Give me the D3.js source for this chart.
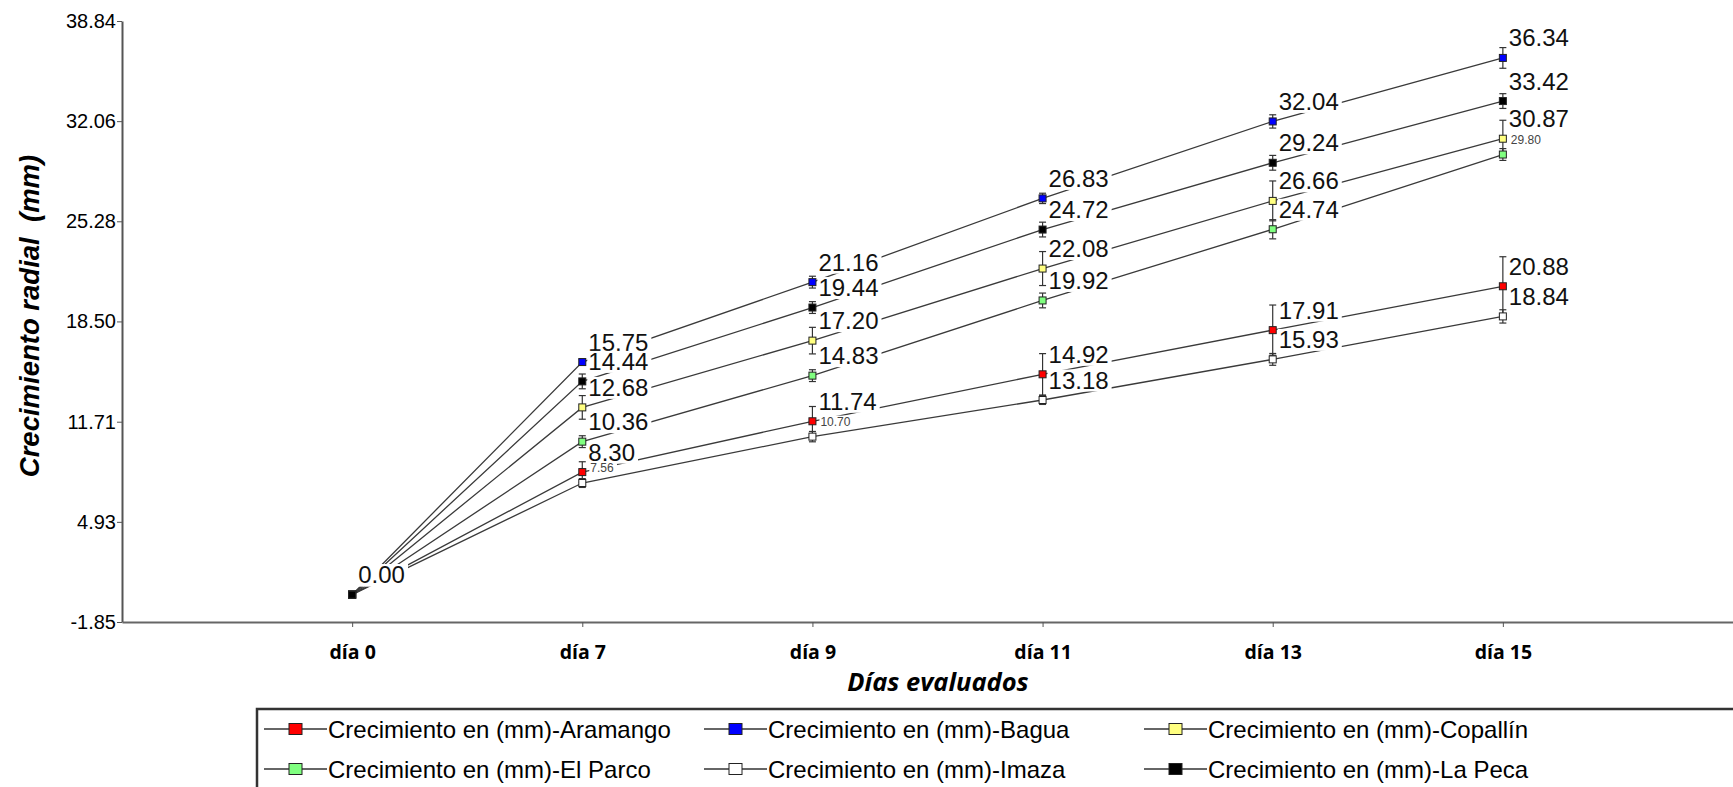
<html>
<head>
<meta charset="utf-8">
<style>
  body { margin: 0; background: #fff; }
  svg { display: block; }
  .arial { font-family: Arial, "Liberation Sans", sans-serif; }
  .osans { font-family: "Open Sans", "Noto Sans", sans-serif; }
</style>
</head>
<body>
<svg id="chart" width="1733" height="787"></svg>
<script src="https://cdnjs.cloudflare.com/ajax/libs/d3/7.8.5/d3.min.js"></script>
<script>
// categories
const days = ['día 0', 'día 7', 'día 9', 'día 11', 'día 13', 'día 15'];

// mean radial growth (mm) per site
const aramango = [0, 8.30, 11.74, 14.92, 17.91, 20.88];
const bagua    = [0, 15.75, 21.16, 26.83, 32.04, 36.34];
const copallin = [0, 12.68, 17.20, 22.08, 26.66, 30.87];
const elParco  = [0, 10.36, 14.83, 19.92, 24.74, 29.80];
const imaza    = [0, 7.56, 10.70, 13.18, 15.93, 18.84];
const laPeca   = [0, 14.44, 19.44, 24.72, 29.24, 33.42];

// error bar half lengths
const aramangoErr = [0, 0.7, 1.0, 1.4, 1.7, 2.0];
const baguaErr    = [0, 0.2, 0.4, 0.35, 0.45, 0.7];
const copallinErr = [0, 0.8, 0.9, 1.15, 1.35, 1.25];
const elParcoErr  = [0, 0.4, 0.4, 0.5, 0.65, 0.4];
const imazaErr    = [0, 0.3, 0.35, 0.3, 0.4, 0.45];
const laPecaErr   = [0, 0.5, 0.4, 0.5, 0.5, 0.5];

const seriesNames = ['Aramango', 'Bagua', 'Copallín', 'El Parco', 'Imaza', 'La Peca'];
const yTickLabels = ['-1.85', '4.93', '11.71', '18.50', '25.28', '32.06', '38.84'];

// build the series table from the arrays above
const colors = ['#ff0000', '#0000ff', '#ffff80', '#80ff80', '#ffffff', '#000000'];
const allValues = [aramango, bagua, copallin, elParco, imaza, laPeca];
const allErr = [aramangoErr, baguaErr, copallinErr, elParcoErr, imazaErr, laPecaErr];
const series = seriesNames.map((n, i) => ({
  name: n, color: colors[i],
  pts: allValues[i].map((v, j) => ({ day: days[j], v: v, e: allErr[i][j], j: j }))
}));

// labels the original drew in a tiny font because they collided
const smallLabels = { 'Imaza': [1, 2], 'El Parco': [5] };

const svg = d3.select('#chart');

const x = d3.scalePoint().domain(days).range([122, 1733]).padding(1);
const y = d3.scaleLinear().domain([-1.85, 38.84]).range([622, 21]);

// axes
const yAxis = d3.axisLeft(y)
  .tickValues(yTickLabels.map(Number))
  .tickFormat((d, i) => yTickLabels[i])   // keep the plain hyphen of the original
  .tickSize(5).tickSizeOuter(0);
const gy = svg.append('g').attr('transform', 'translate(122,0)').call(yAxis);
gy.select('.domain').attr('stroke', '#555').attr('stroke-width', 2);
gy.selectAll('.tick line').attr('stroke', '#555');
gy.selectAll('.tick text').attr('class', 'arial').attr('font-size', 20).attr('fill', '#000').attr('x', -6);

const xAxis = d3.axisBottom(x).tickSize(5).tickSizeOuter(0);
const gx = svg.append('g').attr('transform', 'translate(0,622)').call(xAxis);
gx.select('.domain').attr('stroke', '#666').attr('stroke-width', 2);
gx.selectAll('.tick line').attr('stroke', '#555');
gx.selectAll('.tick text').attr('class', 'osans').attr('font-size', 19.5).attr('font-weight', 700)
  .attr('fill', '#000').attr('y', 23);

// axis titles
svg.append('text').attr('class', 'osans')
  .attr('x', 938).attr('y', 691).attr('text-anchor', 'middle')
  .attr('font-size', 25.5).attr('font-weight', 700).attr('font-style', 'italic')
  .text('Días evaluados');

svg.append('text').attr('class', 'arial')
  .attr('transform', 'translate(39,316) rotate(-90)')
  .attr('text-anchor', 'middle').attr('font-size', 27.5).attr('font-weight', 700)
  .attr('font-style', 'italic').style('white-space', 'pre')
  .text('Crecimiento radial  (mm)');

// lines
const line = d3.line().x(d => x(d.day)).y(d => y(d.v));
svg.append('g').selectAll('path').data(series).join('path')
  .attr('d', d => line(d.pts))
  .attr('fill', 'none').attr('stroke', '#3a3a3a').attr('stroke-width', 1.3);

// value labels with white boxes (they hide the lines behind them)
const lab = svg.append('g');
series.forEach(s => {
  s.pts.forEach(p => {
    const small = (smallLabels[s.name] || []).includes(p.j);
    const g = lab.append('g');
    const t = g.append('text').attr('class', 'arial')
      .attr('x', x(p.day) + (small ? 8 : 6))
      .attr('y', y(p.v) - (small ? 15 : 20))
      .attr('dominant-baseline', 'central')
      .attr('font-size', small ? 12 : 24)
      .attr('fill', small ? '#444' : '#111')
      .text(p.v.toFixed(2));
    const b = t.node().getBBox();
    g.insert('rect', 'text')
      .attr('x', b.x - 1).attr('y', b.y + (small ? 1 : 3))
      .attr('width', b.width + 4).attr('height', b.height - (small ? 2 : 5))
      .attr('fill', '#fff');
  });
});

// error bars and markers
const mk = svg.append('g');
series.forEach(s => {
  s.pts.filter(p => p.e > 0).forEach(p => {
    const cx = x(p.day), y0 = y(p.v - p.e), y1 = y(p.v + p.e);
    mk.append('line').attr('x1', cx).attr('x2', cx).attr('y1', y0).attr('y2', y1)
      .attr('stroke', '#333').attr('stroke-width', 1.2);
    [y0, y1].forEach(yy => mk.append('line')
      .attr('x1', cx - 3.5).attr('x2', cx + 3.5).attr('y1', yy).attr('y2', yy)
      .attr('stroke', '#333').attr('stroke-width', 1.2));
  });
  mk.selectAll(null).data(s.pts).join('rect')
    .attr('x', d => x(d.day) - 3.5).attr('y', d => y(d.v) - 3.5)
    .attr('width', 7).attr('height', 7)
    .attr('fill', s.color).attr('stroke', '#222').attr('stroke-width', 1);
});

// legend
const leg = svg.append('g');
leg.append('rect').attr('x', 257).attr('y', 709).attr('width', 1500).attr('height', 120)
  .attr('fill', '#fff').attr('stroke', '#333').attr('stroke-width', 2.5);
const legCols = [264, 704, 1144];
const legRows = [729, 769];
series.forEach((s, i) => {
  const lx = legCols[i % 3], ly = legRows[Math.floor(i / 3)];
  leg.append('line').attr('x1', lx).attr('x2', lx + 63).attr('y1', ly).attr('y2', ly)
    .attr('stroke', '#333').attr('stroke-width', 1.3);
  leg.append('rect').attr('x', lx + 25).attr('y', ly - 5.5).attr('width', 13).attr('height', 11)
    .attr('fill', s.color).attr('stroke', '#222').attr('stroke-width', 1);
  leg.append('text').attr('class', 'arial')
    .attr('x', lx + 64).attr('y', ly).attr('dominant-baseline', 'central')
    .attr('font-size', 24).attr('fill', '#000')
    .text('Crecimiento en (mm)-' + s.name);
});
</script>
</body>
</html>
